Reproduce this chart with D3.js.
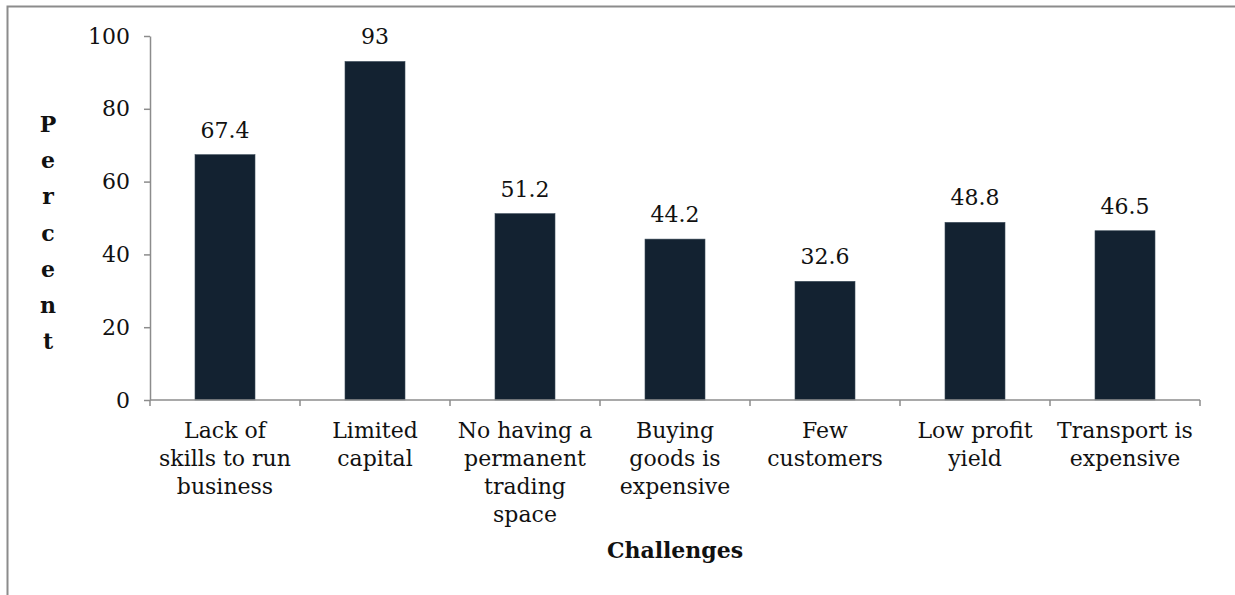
<!DOCTYPE html>
<html>
<head>
<meta charset="utf-8">
<script src="https://cdn.jsdelivr.net/npm/d3@7"></script>
<style>
  html, body { margin: 0; padding: 0; background: #fff; }
  svg text { font-family: "DejaVu Serif", "Liberation Serif", serif; fill: #111; }
</style>
</head>
<body>
<div id="chart"></div>
<script>
// chart data
const categories = [
    "Lack of\nskills to run\nbusiness",
    "Limited\ncapital",
    "No having a\npermanent\ntrading\nspace",
    "Buying\ngoods is\nexpensive",
    "Few\ncustomers",
    "Low profit\nyield",
    "Transport is\nexpensive"
];
const percents = [67.4, 93, 51.2, 44.2, 32.6, 48.8, 46.5];
const yTicks = [0, 20, 40, 60, 80, 100];
const xTitle = "Challenges";
const yTitle = "Percent";

const width = 1235;
const height = 595;
const plot = { left: 150, right: 1200, top: 36, bottom: 400 };
const fontSize = '22px';

const svg = d3.select('#chart')
    .append('svg')
        .attr('width', width)
        .attr('height', height);

// outer frame (cropped on the right and bottom)
svg.append('rect')
    .attr('x', 7.5).attr('y', 6.5)
    .attr('width', width + 20).attr('height', height + 20)
    .attr('fill', 'none')
    .attr('stroke', '#8c8c8c')
    .attr('stroke-width', 2);

const xScale = d3.scaleBand()
    .domain(categories)
    .range([plot.left, plot.right])
    .paddingInner(0.6)
    .paddingOuter(0.3);

const yScale = d3.scaleLinear()
    .domain([0, 100])
    .range([plot.bottom, plot.top]);

// bars
svg.append('g')
    .selectAll('rect')
    .data(percents)
    .enter()
        .append('rect')
            .attr('x', (d, i) => xScale(categories[i]))
            .attr('y', d => yScale(d))
            .attr('width', xScale.bandwidth())
            .attr('height', d => yScale(0) - yScale(d))
            .attr('fill', '#132231')
            .attr('stroke', '#3a4a58')
            .attr('stroke-width', 0.6);

// value labels
svg.append('g')
    .selectAll('text')
    .data(percents)
    .enter()
        .append('text')
            .attr('x', (d, i) => xScale(categories[i]) + xScale.bandwidth() / 2)
            .attr('y', d => yScale(d) - 17)
            .attr('text-anchor', 'middle')
            .style('font-size', fontSize)
            .text(d => d);

// y axis
const yAxis = svg.append('g')
    .attr('transform', `translate(${plot.left}, 0)`)
    .call(d3.axisLeft(yScale).tickValues(yTicks).tickSize(6).tickPadding(14).tickSizeOuter(0));
yAxis.selectAll('text').style('font-size', fontSize).attr('fill', '#111');

// x axis: ticks between categories
const step = xScale.step();
const boundaries = d3.range(categories.length + 1).map(i => plot.left + i * step);
const xAxis = svg.append('g');
xAxis.append('line')
    .attr('x1', plot.left).attr('x2', plot.right)
    .attr('y1', plot.bottom).attr('y2', plot.bottom);
xAxis.selectAll('.xtick')
    .data(boundaries)
    .enter()
        .append('line')
            .attr('class', 'xtick')
            .attr('x1', d => d).attr('x2', d => d)
            .attr('y1', plot.bottom).attr('y2', plot.bottom + 6);
xAxis.selectAll('line').attr('stroke', '#8c8c8c').attr('stroke-width', 1.5);
yAxis.selectAll('.domain, line').attr('stroke', '#8c8c8c').attr('stroke-width', 1.5);

// category labels
const catLabels = svg.append('g')
    .selectAll('text')
    .data(categories)
    .enter()
        .append('text')
            .attr('x', d => xScale(d) + xScale.bandwidth() / 2)
            .attr('y', 438)
            .attr('text-anchor', 'middle')
            .style('font-size', fontSize);
catLabels.selectAll('tspan')
    .data(d => d.split('\n'))
    .enter()
        .append('tspan')
            .attr('x', function() { return this.parentNode.getAttribute('x'); })
            .attr('dy', (d, i) => i === 0 ? 0 : 28)
            .text(d => d);

// x title
svg.append('text')
    .attr('x', (plot.left + plot.right) / 2)
    .attr('y', 558)
    .attr('text-anchor', 'middle')
    .style('font-size', fontSize)
    .style('font-weight', 'bold')
    .text(xTitle);

// y title, stacked letters
svg.append('g')
    .selectAll('text')
    .data(yTitle.split(''))
    .enter()
        .append('text')
            .attr('x', 48)
            .attr('y', (d, i) => 132 + i * 36.2)
            .attr('text-anchor', 'middle')
            .style('font-size', fontSize)
            .style('font-weight', 'bold')
            .text(d => d);
</script>
</body>
</html>
